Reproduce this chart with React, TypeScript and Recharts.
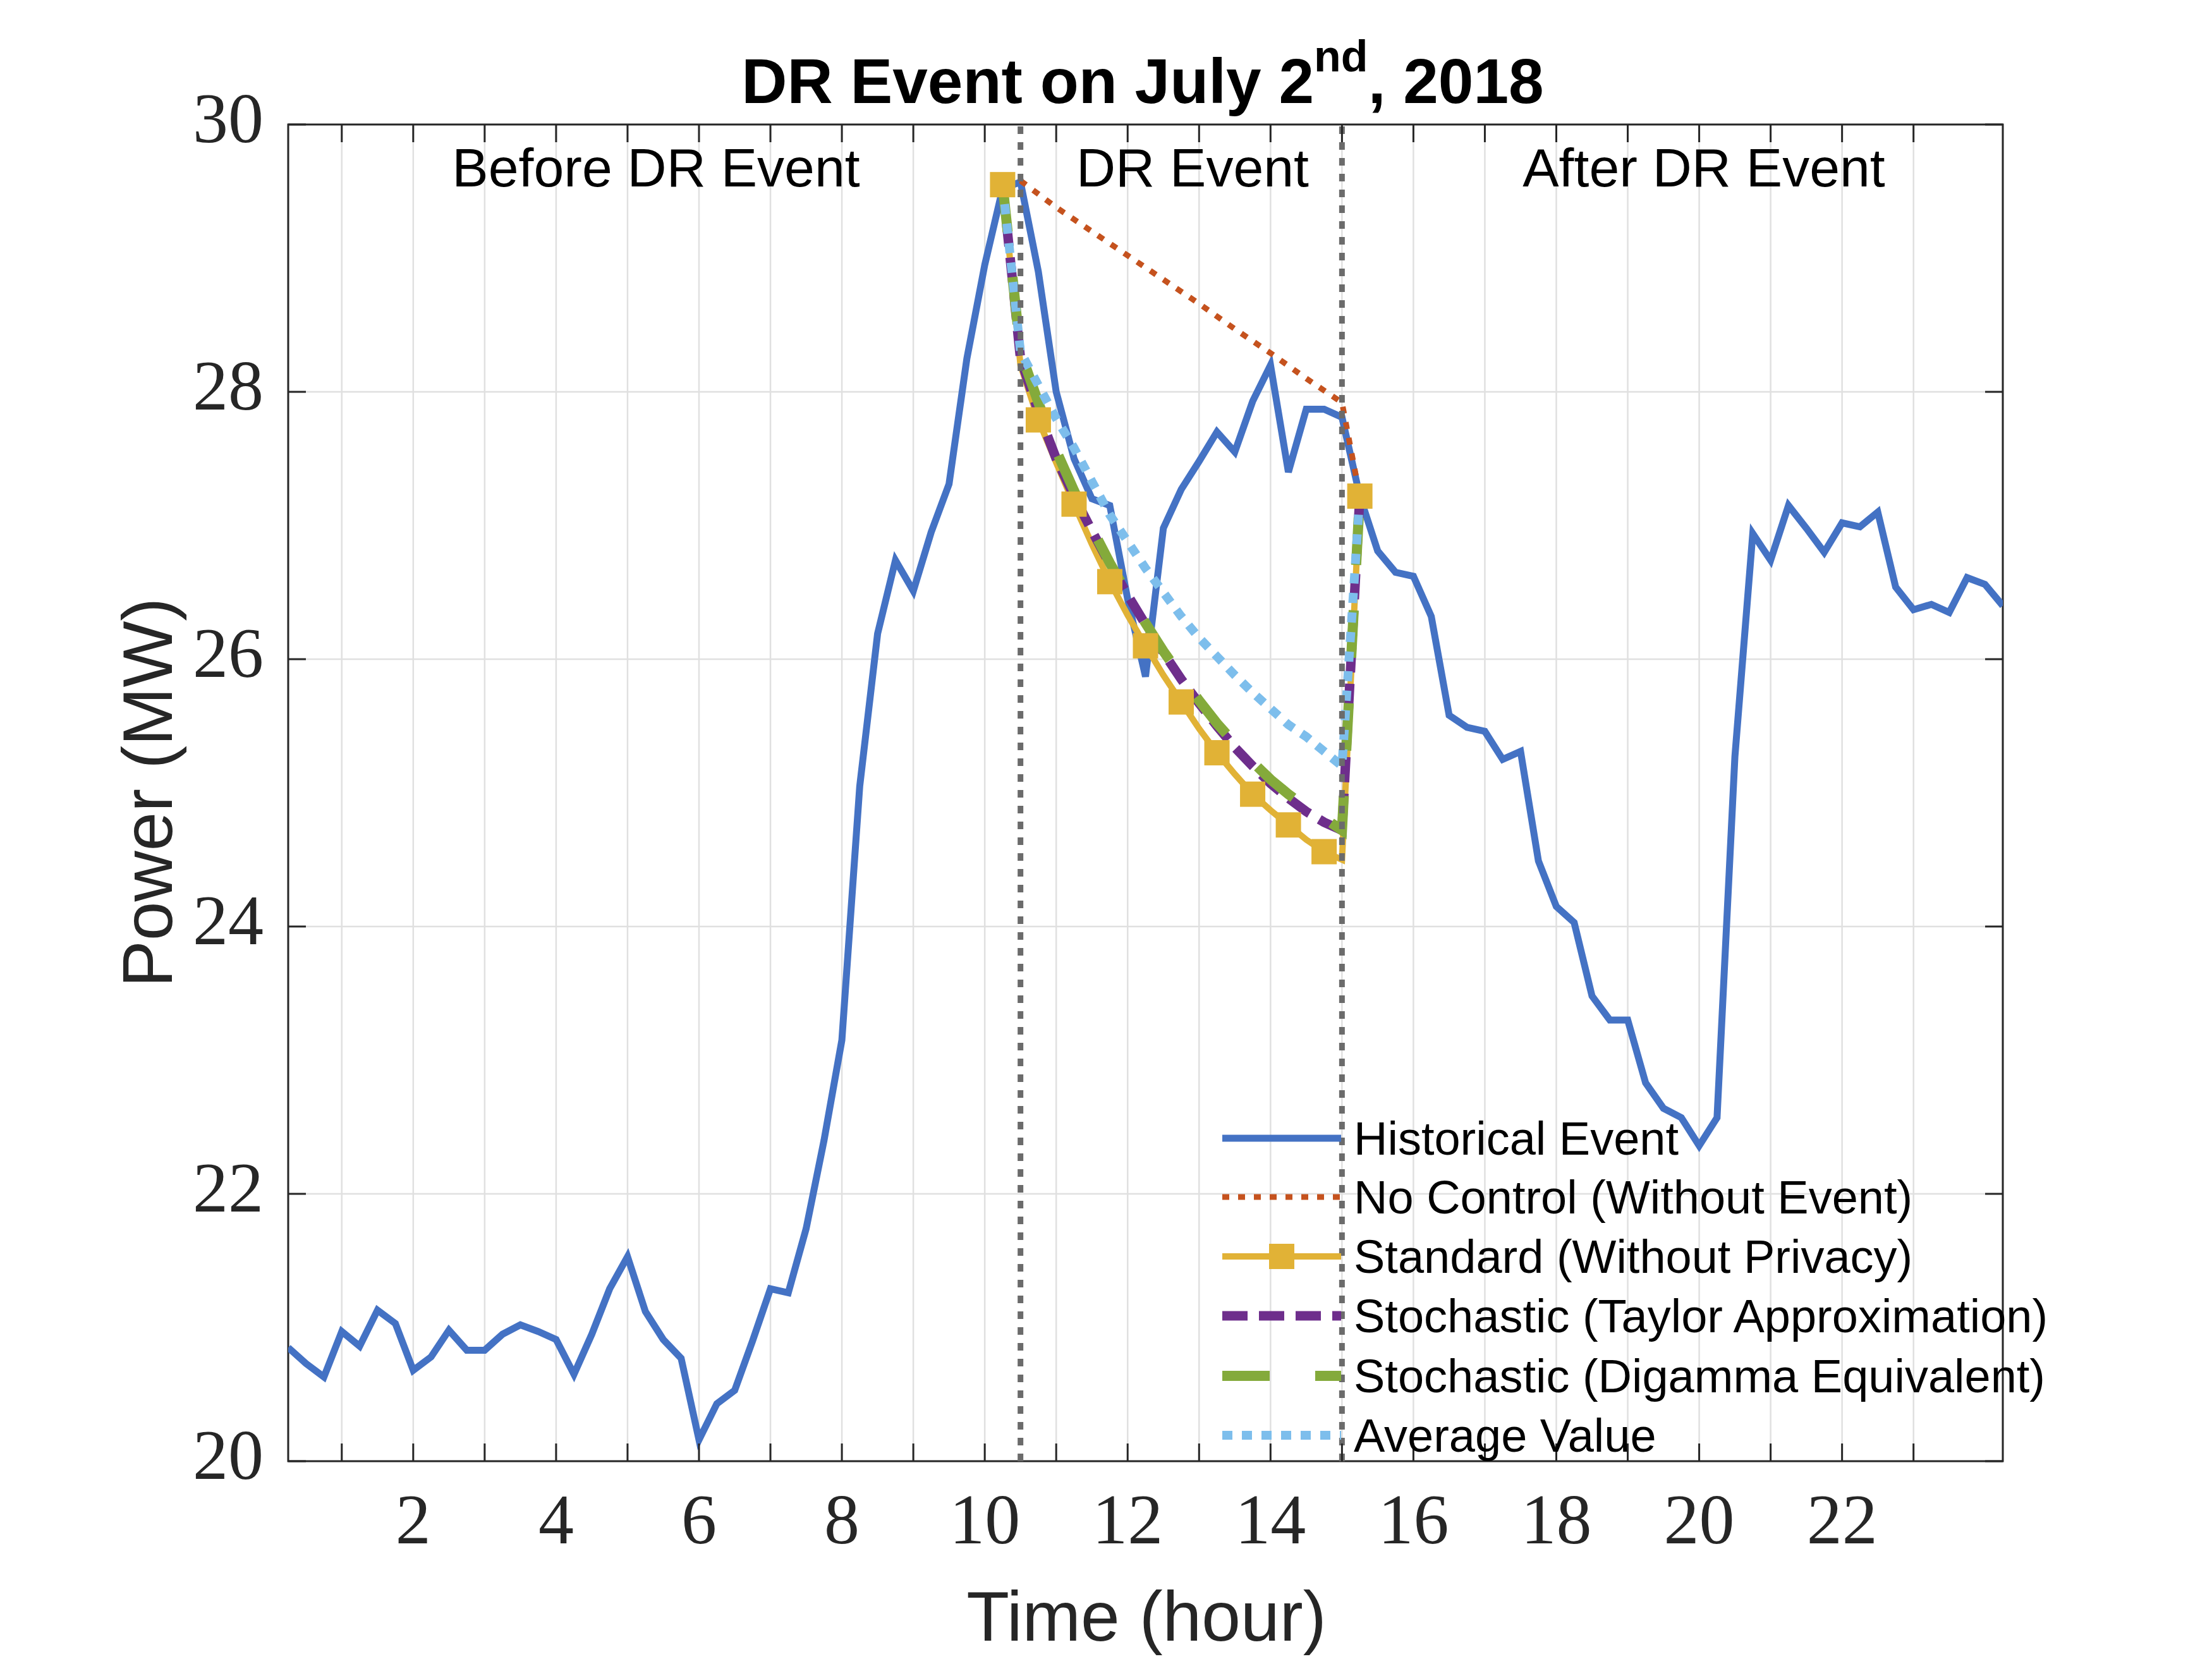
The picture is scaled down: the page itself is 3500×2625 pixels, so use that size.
import {
  LineChart,
  Line,
  XAxis,
  YAxis,
  CartesianGrid,
  ReferenceLine,
  ReferenceArea,
} from 'recharts';

// Historical event, 15-minute samples (hour, MW)
const histHours = [
  0.25, 0.5, 0.75, 1, 1.25, 1.5, 1.75, 2, 2.25, 2.5, 2.75, 3, 3.25, 3.5, 3.75, 4,
  4.25, 4.5, 4.75, 5, 5.25, 5.5, 5.75, 6, 6.25, 6.5, 6.75, 7, 7.25, 7.5, 7.75, 8,
  8.25, 8.5, 8.75, 9, 9.25, 9.5, 9.75, 10, 10.25, 10.5, 10.75, 11, 11.25, 11.5, 11.75, 12,
  12.25, 12.5, 12.75, 13, 13.25, 13.5, 13.75, 14, 14.25, 14.5, 14.75, 15, 15.25, 15.5, 15.75, 16,
  16.25, 16.5, 16.75, 17, 17.25, 17.5, 17.75, 18, 18.25, 18.5, 18.75, 19, 19.25, 19.5, 19.75, 20,
  20.25, 20.5, 20.75, 21, 21.25, 21.5, 21.75, 22, 22.25, 22.5, 22.75, 23, 23.25, 23.5, 23.75, 24,
  24.25,
];
const histPower = [
  20.85, 20.73, 20.63, 20.97, 20.86, 21.13, 21.03, 20.68, 20.78, 20.98, 20.83, 20.83, 20.95, 21.02, 20.97, 20.91,
  20.65, 20.95, 21.29, 21.53, 21.12, 20.91, 20.77, 20.16, 20.43, 20.53, 20.9, 21.29, 21.26, 21.74, 22.4, 23.15,
  25.05, 26.19, 26.74, 26.51, 26.95, 27.31, 28.25, 28.95, 29.52, 29.57, 28.9, 28.0, 27.5, 27.2, 27.15, 26.45,
  25.87, 26.98, 27.27, 27.48, 27.7, 27.55, 27.93, 28.2, 27.4, 27.87, 27.87, 27.81, 27.22, 26.81, 26.65, 26.62,
  26.32, 25.58, 25.49, 25.46, 25.25, 25.31, 24.49, 24.15, 24.03, 23.48, 23.3, 23.3, 22.83, 22.64, 22.57, 22.36,
  22.57, 25.27, 26.94, 26.74, 27.15, 26.98, 26.8, 27.02, 26.99, 27.1, 26.54, 26.37, 26.41, 26.35, 26.61, 26.56,
  26.4,
];

// DR window curves (10.25 h to 15.25 h)
const drHours = [
  10.25, 10.5, 10.75, 11, 11.25, 11.5, 11.75, 12, 12.25, 12.5, 12.75,
  13, 13.25, 13.5, 13.75, 14, 14.25, 14.5, 14.75, 15, 15.25,
];
const standardPower = [
  29.55, 28.2, 27.79, 27.47, 27.16, 26.86, 26.58, 26.33, 26.1, 25.88, 25.68,
  25.48, 25.3, 25.14, 24.99, 24.87, 24.76, 24.65, 24.56, 24.5, 27.22,
];
const taylorPower = [
  29.55, 28.25, 27.85, 27.5, 27.22, 26.96, 26.71, 26.48, 26.26, 26.05, 25.85,
  25.67, 25.5, 25.34, 25.2, 25.07, 24.96, 24.86, 24.78, 24.72, 27.22,
];
const digammaPower = [
  29.55, 28.3, 27.92, 27.56, 27.26, 26.98, 26.72, 26.49, 26.27, 26.06, 25.87,
  25.69, 25.52, 25.37, 25.23, 25.1, 24.99, 24.89, 24.81, 24.72, 27.22,
];
const averagePower = [
  29.55, 28.3, 28.05, 27.8, 27.58, 27.33, 27.08, 26.88, 26.68, 26.5, 26.32,
  26.16, 26.02, 25.88, 25.75, 25.63, 25.51, 25.42, 25.31, 25.2, 27.22,
];

// No control baseline
const noCtrlHours = [10.5, 11, 11.5, 12, 12.5, 13, 13.5, 14, 14.5, 15, 15.25];
const noCtrlPower = [29.58, 29.38, 29.2, 29.02, 28.84, 28.66, 28.47, 28.29, 28.1, 27.92, 27.22];

const xTicks = [1, 2, 3, 4, 5, 6, 7, 8, 9, 10, 11, 12, 13, 14, 15, 16, 17, 18, 19, 20, 21, 22, 23];
const yTicks = [20, 22, 24, 26, 28, 30];
const drStart = 10.5;
const drEnd = 15;

const regionLabels = ['Before DR Event', 'DR Event', 'After DR Event'];
const legendLabels = [
  'Historical Event',
  'No Control (Without Event)',
  'Standard (Without Privacy)',
  'Stochastic (Taylor Approximation)',
  'Stochastic (Digamma Equivalent)',
  'Average Value',
];

const zip = (xs: number[], ys: number[]) => xs.map((t, i) => ({ t, v: ys[i] }));

const W = 3500;
const H = 2625;
const PLOT_LEFT = 456;
const PLOT_RIGHT = 3169;
const PLOT_TOP = 197;
const PLOT_BOTTOM = 2312;
const Y_AXIS_W = 200;
const X_AXIS_H = 200;
const TICK_LEN = 28;

const SANS = '"Liberation Sans", Arial, Helvetica, sans-serif';
const SERIF = '"Liberation Serif", "Times New Roman", serif';
const AXIS_COLOR = '#262626';

const C_HIST = '#4472C4';
const C_NOCTRL = '#C5521E';
const C_STD = '#E1B236';
const C_TAYLOR = '#6E2E8C';
const C_DIGAMMA = '#84AA3B';
const C_AVG = '#7DBEEC';
const C_EVENT = '#6b6b6b';

// line styles shared by series and legend samples
const W_HIST = 11;
const W_NOCTRL = 9;
const W_STD = 10;
const W_TAYLOR = 15;
const W_DIGAMMA = 16;
const W_AVG = 14;
const D_NOCTRL = '11 14';
const D_TAYLOR = '40 18';
const D_DIGAMMA = '75 72';
const D_AVG = '16 15';
const MARK = 40;

function XTick(props: any) {
  const { x, y, payload } = props;
  return (
    <g>
      <line x1={x} y1={y} x2={x} y2={y - TICK_LEN} stroke={AXIS_COLOR} strokeWidth={3} />
      <line x1={x} y1={PLOT_TOP} x2={x} y2={PLOT_TOP + TICK_LEN} stroke={AXIS_COLOR} strokeWidth={3} />
      {payload.value % 2 === 0 && (
        <text x={x} y={y + 130} textAnchor="middle" fontFamily={SERIF} fontSize={112} fill={AXIS_COLOR}>
          {payload.value}
        </text>
      )}
    </g>
  );
}

function YTick(props: any) {
  const { x, y, payload } = props;
  return (
    <g>
      <line x1={x} y1={y} x2={x + TICK_LEN} y2={y} stroke={AXIS_COLOR} strokeWidth={3} />
      <line x1={PLOT_RIGHT} y1={y} x2={PLOT_RIGHT - TICK_LEN} y2={y} stroke={AXIS_COLOR} strokeWidth={3} />
      <text x={x - 39} y={y + 28} textAnchor="end" fontFamily={SERIF} fontSize={112} fill={AXIS_COLOR}>
        {payload.value}
      </text>
    </g>
  );
}

function StdMarker(props: any) {
  const { cx, cy, index } = props;
  if (index % 2 !== 0) return <g key={`m${index}`} />;
  return <rect key={`m${index}`} x={cx - MARK / 2} y={cy - MARK / 2} width={MARK} height={MARK} fill={C_STD} />;
}

function Overlay() {
  const rows = [1801, 1894, 1988, 2082, 2177, 2271];
  const sx1 = 1934;
  const sx2 = 2122;
  return (
    <svg
      width={W}
      height={H}
      style={{ position: 'absolute', left: 0, top: 0, pointerEvents: 'none' }}
    >
      <text x={1808} y={163} textAnchor="middle" fontFamily={SANS} fontWeight="bold" fontSize={100} fill="#000">
        <tspan>DR Event on July 2</tspan>
        <tspan dy={-50} fontSize={70}>nd</tspan>
        <tspan dy={50}>, 2018</tspan>
      </text>

      <text x={1038} y={295} textAnchor="middle" fontFamily={SANS} fontSize={86} fill="#000">{regionLabels[0]}</text>
      <text x={1887} y={295} textAnchor="middle" fontFamily={SANS} fontSize={86} fill="#000">{regionLabels[1]}</text>
      <text x={2696} y={295} textAnchor="middle" fontFamily={SANS} fontSize={86} fill="#000">{regionLabels[2]}</text>

      <text
        x={272}
        y={1254}
        textAnchor="middle"
        fontFamily={SANS}
        fontSize={111}
        fill={AXIS_COLOR}
        transform="rotate(-90 272 1254)"
      >
        Power (MW)
      </text>
      <text x={1814} y={2596} textAnchor="middle" fontFamily={SANS} fontSize={111} fill={AXIS_COLOR}>
        Time (hour)
      </text>

      {/* legend */}
      <line x1={sx1} y1={rows[0]} x2={sx2} y2={rows[0]} stroke={C_HIST} strokeWidth={W_HIST} />
      <line x1={sx1} y1={rows[1]} x2={sx2} y2={rows[1]} stroke={C_NOCTRL} strokeWidth={W_NOCTRL} strokeDasharray={D_NOCTRL} />
      <line x1={sx1} y1={rows[2]} x2={sx2} y2={rows[2]} stroke={C_STD} strokeWidth={W_STD} />
      <rect x={(sx1 + sx2) / 2 - MARK / 2} y={rows[2] - MARK / 2} width={MARK} height={MARK} fill={C_STD} />
      <line x1={sx1} y1={rows[3]} x2={sx2} y2={rows[3]} stroke={C_TAYLOR} strokeWidth={W_TAYLOR} strokeDasharray={D_TAYLOR} />
      <line x1={sx1} y1={rows[4]} x2={sx2} y2={rows[4]} stroke={C_DIGAMMA} strokeWidth={W_DIGAMMA} strokeDasharray={D_DIGAMMA} />
      <line x1={sx1} y1={rows[5]} x2={sx2} y2={rows[5]} stroke={C_AVG} strokeWidth={W_AVG} strokeDasharray={D_AVG} />
      {legendLabels.map((label, i) => (
        <text key={label} x={2142} y={rows[i] + 26} fontFamily={SANS} fontSize={74} fill="#000">
          {label}
        </text>
      ))}
    </svg>
  );
}

export default function App() {
  return (
    <div style={{ position: 'absolute', left: 0, top: 0, width: W, height: H, background: '#fff' }}>
      <LineChart
        width={W}
        height={H}
        margin={{
          top: PLOT_TOP,
          right: W - PLOT_RIGHT,
          left: PLOT_LEFT - Y_AXIS_W,
          bottom: H - PLOT_BOTTOM - X_AXIS_H,
        }}
      >
        <CartesianGrid stroke="#e0e0e0" strokeWidth={2.5} />
        <XAxis
          dataKey="t"
          type="number"
          domain={[0.25, 24.25]}
          ticks={xTicks}
          interval={0}
          height={X_AXIS_H}
          axisLine={false}
          tickLine={false}
          tickSize={0}
          tickMargin={0}
          tick={<XTick />}
          allowDataOverflow
        />
        <YAxis
          type="number"
          domain={[20, 30]}
          ticks={yTicks}
          interval={0}
          width={Y_AXIS_W}
          axisLine={false}
          tickLine={false}
          tickSize={0}
          tickMargin={0}
          tick={<YTick />}
          allowDataOverflow
        />
        <ReferenceArea
          x1={0.25}
          x2={24.25}
          y1={20}
          y2={30}
          fill="none"
          fillOpacity={0}
          stroke={AXIS_COLOR}
          strokeWidth={3}
          ifOverflow="visible"
        />
        <Line
          data={zip(histHours, histPower)}
          dataKey="v"
          type="linear"
          stroke={C_HIST}
          strokeWidth={W_HIST}
          dot={false}
          activeDot={false}
          isAnimationActive={false}
        />
        <Line
          data={zip(noCtrlHours, noCtrlPower)}
          dataKey="v"
          type="linear"
          stroke={C_NOCTRL}
          strokeWidth={W_NOCTRL}
          strokeDasharray={D_NOCTRL}
          dot={false}
          activeDot={false}
          isAnimationActive={false}
        />
        <Line
          data={zip(drHours, standardPower)}
          dataKey="v"
          type="linear"
          stroke={C_STD}
          strokeWidth={W_STD}
          dot={StdMarker}
          activeDot={false}
          isAnimationActive={false}
        />
        <Line
          data={zip(drHours, taylorPower)}
          dataKey="v"
          type="linear"
          stroke={C_TAYLOR}
          strokeWidth={W_TAYLOR}
          strokeDasharray={D_TAYLOR}
          dot={false}
          activeDot={false}
          isAnimationActive={false}
        />
        <Line
          data={zip(drHours, digammaPower)}
          dataKey="v"
          type="linear"
          stroke={C_DIGAMMA}
          strokeWidth={W_DIGAMMA}
          strokeDasharray={D_DIGAMMA}
          dot={false}
          activeDot={false}
          isAnimationActive={false}
        />
        <Line
          data={zip(drHours, averagePower)}
          dataKey="v"
          type="linear"
          stroke={C_AVG}
          strokeWidth={W_AVG}
          strokeDasharray={D_AVG}
          dot={false}
          activeDot={false}
          isAnimationActive={false}
        />
        <ReferenceLine x={drStart} stroke={C_EVENT} strokeWidth={9} strokeDasharray="12 13" />
        <ReferenceLine x={drEnd} stroke={C_EVENT} strokeWidth={9} strokeDasharray="12 13" />
      </LineChart>
      <Overlay />
    </div>
  );
}
